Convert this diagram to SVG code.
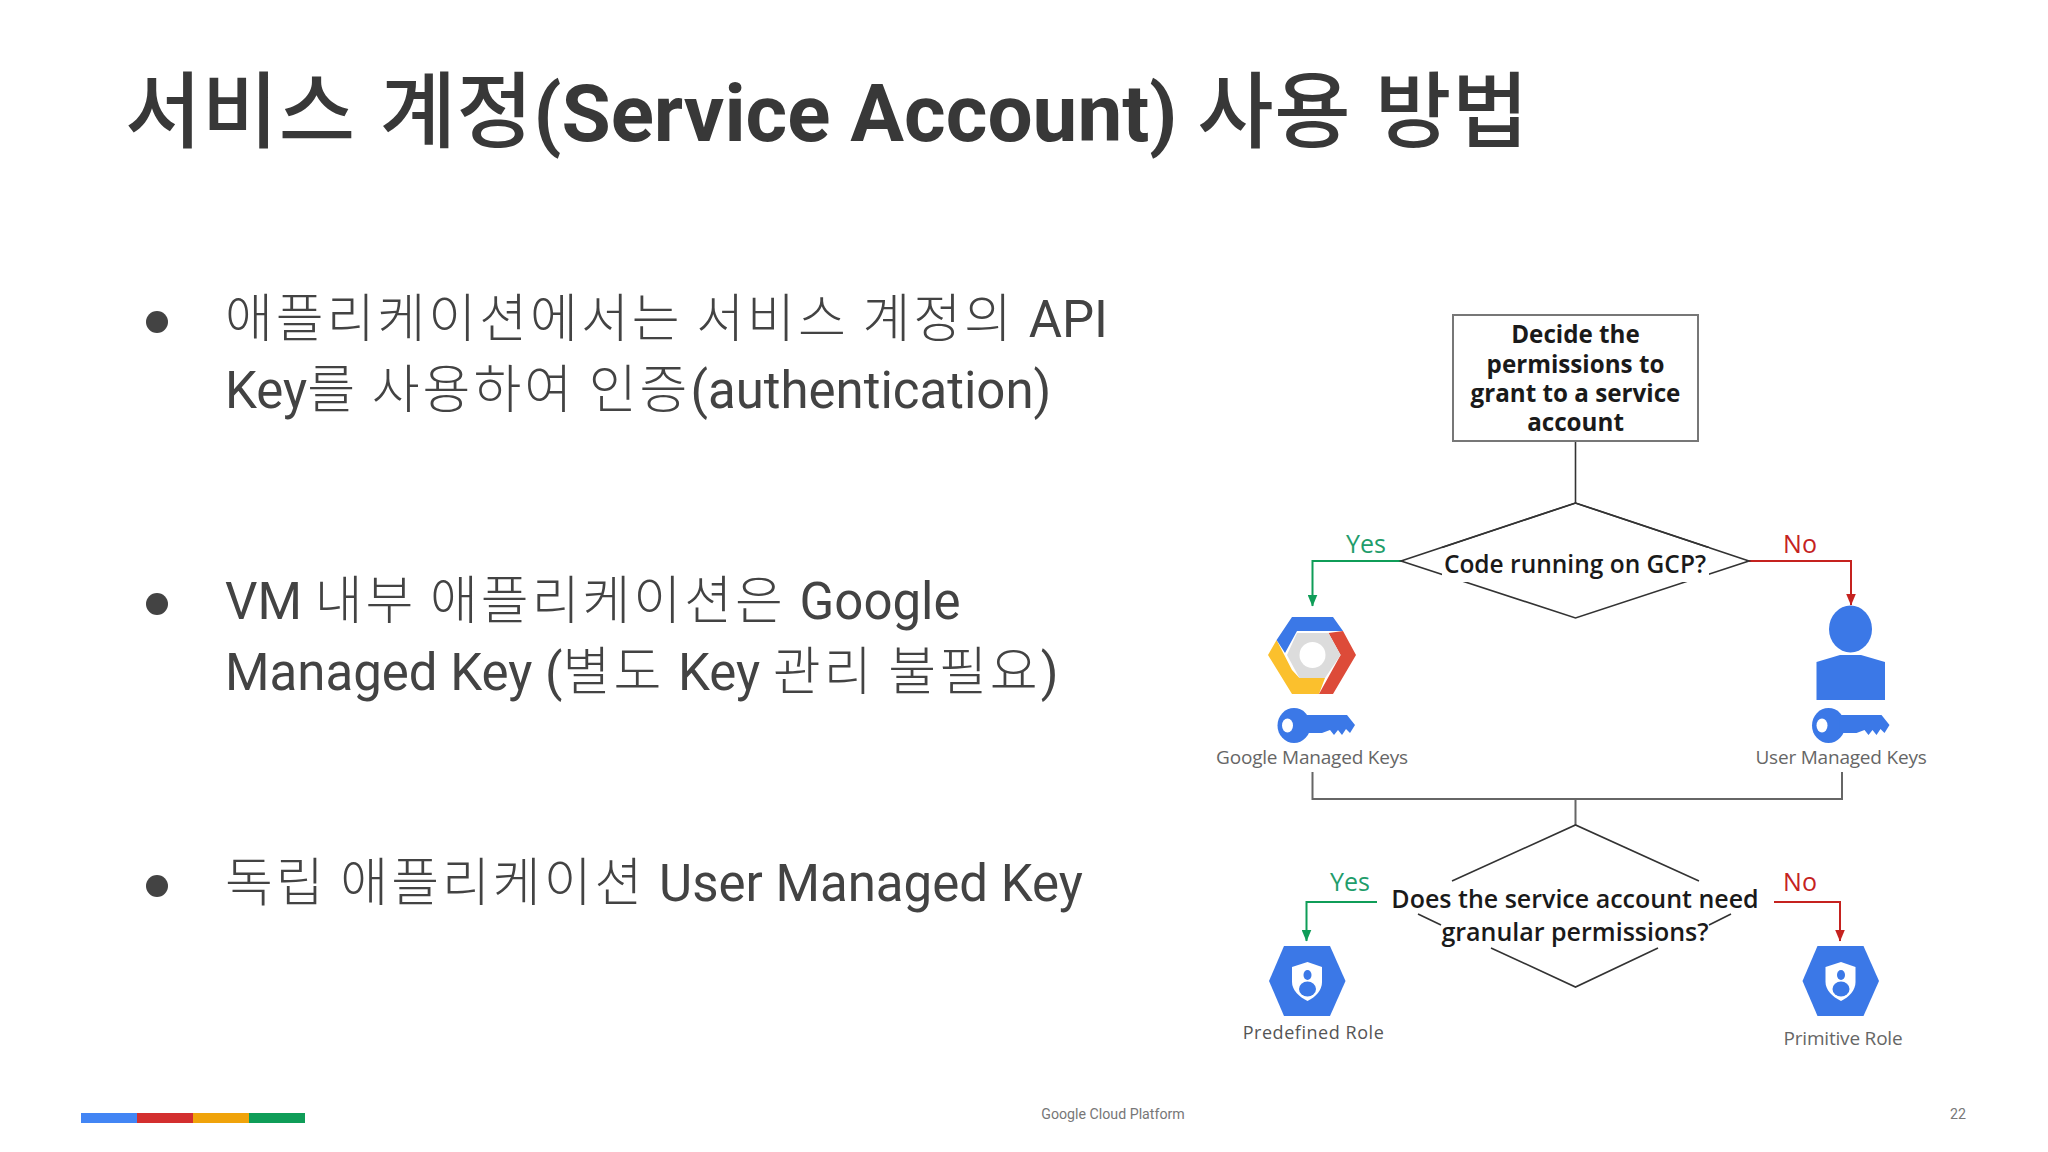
<svg xmlns="http://www.w3.org/2000/svg" width="2048" height="1152" viewBox="0 0 2048 1152">
<style>
.t{font-family:"Roboto","Noto Sans CJK KR",sans-serif;fill:#434343}
.title{font-size:80px;font-weight:700;fill:#383838}
.tk{font-size:83px;font-weight:500;letter-spacing:.5px;word-spacing:3px}
.b{font-size:51px}
.k{font-size:52px;font-weight:300;letter-spacing:3px;word-spacing:-2px}
.o{font-family:"Open Sans","Liberation Sans",sans-serif;text-anchor:middle}
.q{font-size:25px;font-weight:600;fill:#1a1a1a}
.bx{font-size:24.2px;font-weight:700;fill:#1a1a1a}
.l{font-size:19px;fill:#666;letter-spacing:-.2px}
.y{font-size:25px;fill:#1f9d6b}
.n{font-size:25px;fill:#c5221f}
.e{stroke:#333;stroke-width:1.6;fill:none}
.g{fill:none;stroke:#0f9d58;stroke-width:2;marker-end:url(#ag)}
.r{fill:none;stroke:#c5221f;stroke-width:2;marker-end:url(#ar)}
.f{font-family:Roboto,sans-serif;font-size:14.2px;fill:#777;text-anchor:middle}
</style>
<defs>
<marker id="ag" markerWidth="12" markerHeight="10" refX="11.5" refY="5" orient="auto" markerUnits="userSpaceOnUse"><path d="M0 0L12 5L0 10Z" fill="#0f9d58"/></marker>
<marker id="ar" markerWidth="12" markerHeight="10" refX="11.5" refY="5" orient="auto" markerUnits="userSpaceOnUse"><path d="M0 0L12 5L0 10Z" fill="#c5221f"/></marker>
<g id="key"><ellipse cx="1294" cy="725.5" rx="16.5" ry="17.5" fill="#3b78e7"/><path fill="#3b78e7" d="M1305 715H1347L1355 725L1350 733L1346 729L1342 735L1338 730L1334 735L1330 730L1322 733H1305Z"/><ellipse cx="1287.5" cy="725.5" rx="5.5" ry="7" fill="#fff"/></g>
<g id="hex"><path fill="#3b78e7" d="M1284 946H1330L1345.5 981L1330 1016H1284L1269 981Z"/><path fill="#fff" d="M1307.5 962L1322 967V982C1322 990 1316 997 1307.5 1001C1299 997 1292 990 1292 982V967Z"/><ellipse cx="1307.5" cy="975" rx="4" ry="5" fill="#3b78e7"/><ellipse cx="1307.5" cy="989" rx="8.5" ry="7.5" fill="#3b78e7"/></g>
</defs>
<rect width="2048" height="1152" fill="#fff"/>
<text class="t title" x="125" y="141"><tspan class="tk">서비스 계정</tspan>(Service Account) <tspan class="tk">사용 방법</tspan></text>
<g class="t b">
<text x="225" y="337"><tspan class="k">애플리케이션에서는 서비스 계정의 </tspan>API</text>
<text x="225" y="408">Key<tspan class="k">를 사용하여 인증</tspan>(authentication)</text>
<text x="225" y="619">VM <tspan class="k">내부 애플리케이션은 </tspan>Google</text>
<text x="225" y="690">Managed Key (<tspan class="k">별도 </tspan>Key <tspan class="k">관리 불필요</tspan>)</text>
<text x="225" y="901"><tspan class="k">독립 애플리케이션 </tspan>User Managed Key</text>
</g>
<g fill="#434343"><circle cx="157" cy="322" r="11"/><circle cx="157" cy="604" r="11"/><circle cx="157" cy="886" r="11"/></g>
<g id="connectors">
<path class="e" d="M1575.5 441V503"/>
<path class="g" d="M1401 561H1312.5V606"/>
<path class="r" d="M1749 561H1851V605"/>
<path d="M1312.5 772V799H1842V772M1575.5 799V825" fill="none" stroke="#666" stroke-width="2"/>
<path class="g" d="M1377 902H1306.5V941"/>
<path class="r" d="M1774 902H1840V941"/>
<text class="o y" x="1366" y="553">Yes</text>
<text class="o n" x="1800" y="553">No</text>
<text class="o y" x="1350" y="891">Yes</text>
<text class="o n" x="1800" y="891">No</text>
</g>
<g id="decide">
<rect x="1453" y="315" width="245" height="126" fill="#fff" stroke="#777" stroke-width="2"/>
<g class="o bx">
<text x="1575.5" y="343">Decide the</text><text x="1575.5" y="373">permissions to</text><text x="1575.5" y="402">grant to a service</text><text x="1575.5" y="431">account</text></g>
</g>
<g id="gcp-question">
<path class="e" d="M1401 561L1575.5 503L1749 561L1575.5 618Z"/>
<rect x="1442" y="548" width="267" height="34" fill="#fff"/>
<path class="e" d="M1442 547.500L1575.500 503L1709 547.500"/>
<text class="o q" x="1575" y="573" style="font-size:24.500px">Code running on GCP?</text>
</g>
<g id="google-keys">
<path fill="#fbc02d" d="M1268 655L1276.600 640L1292 670L1299.400 678H1325L1319 694H1292Z"/>
<path fill="#3b78e7" d="M1292 617H1333L1343 631H1297L1285 653L1276.600 640Z"/>
<path fill="#dd4b39" d="M1328.500 633L1343 631L1356 655L1333 694H1319L1340.600 655Z"/>
<path fill="#dcdcdc" d="M1297 633H1328.500L1340.600 655L1325 678H1299.400L1287 655Z"/>
<ellipse cx="1312.500" cy="655" rx="13" ry="13" fill="#fff"/>
<use href="#key"/>
<text class="o l" x="1312" y="764">Google Managed Keys</text>
</g>
<g id="user-keys">
<ellipse cx="1850.500" cy="629" rx="21.500" ry="23.500" fill="#3b78e7"/>
<path fill="#3b78e7" d="M1816.500 662L1840 655H1861L1885 662V700H1816.500Z"/>
<use href="#key" x="534.500"/>
<text class="o l" x="1841" y="764">User Managed Keys</text>
</g>
<g id="granular-question">
<path class="e" d="M1452 881L1575.500 825L1699 881M1418 914L1441 925M1731 914L1709 925M1491 948L1575.500 987L1658 948"/>
<text class="o q" x="1575" y="908">Does the service account need</text>
<text class="o q" x="1575" y="941">granular permissions?</text>
</g>
<g id="predefined-role">
<use href="#hex"/>
<text class="o l" x="1313.500" y="1039" style="font-size:18px;letter-spacing:.55px;fill:#555">Predefined Role</text>
</g>
<g id="primitive-role">
<use href="#hex" x="533.500"/>
<text class="o l" x="1843" y="1045">Primitive Role</text>
</g>
<g id="footer">
<rect x="81" y="1113" width="56" height="10" fill="#4285f4"/>
<rect x="137" y="1113" width="56" height="10" fill="#d32f2f"/>
<rect x="193" y="1113" width="56" height="10" fill="#f0a30a"/>
<rect x="249" y="1113" width="56" height="10" fill="#0f9d58"/>
<text class="f" x="1113" y="1119">Google Cloud Platform</text>
<text class="f" x="1958" y="1119">22</text>
</g>
</svg>
